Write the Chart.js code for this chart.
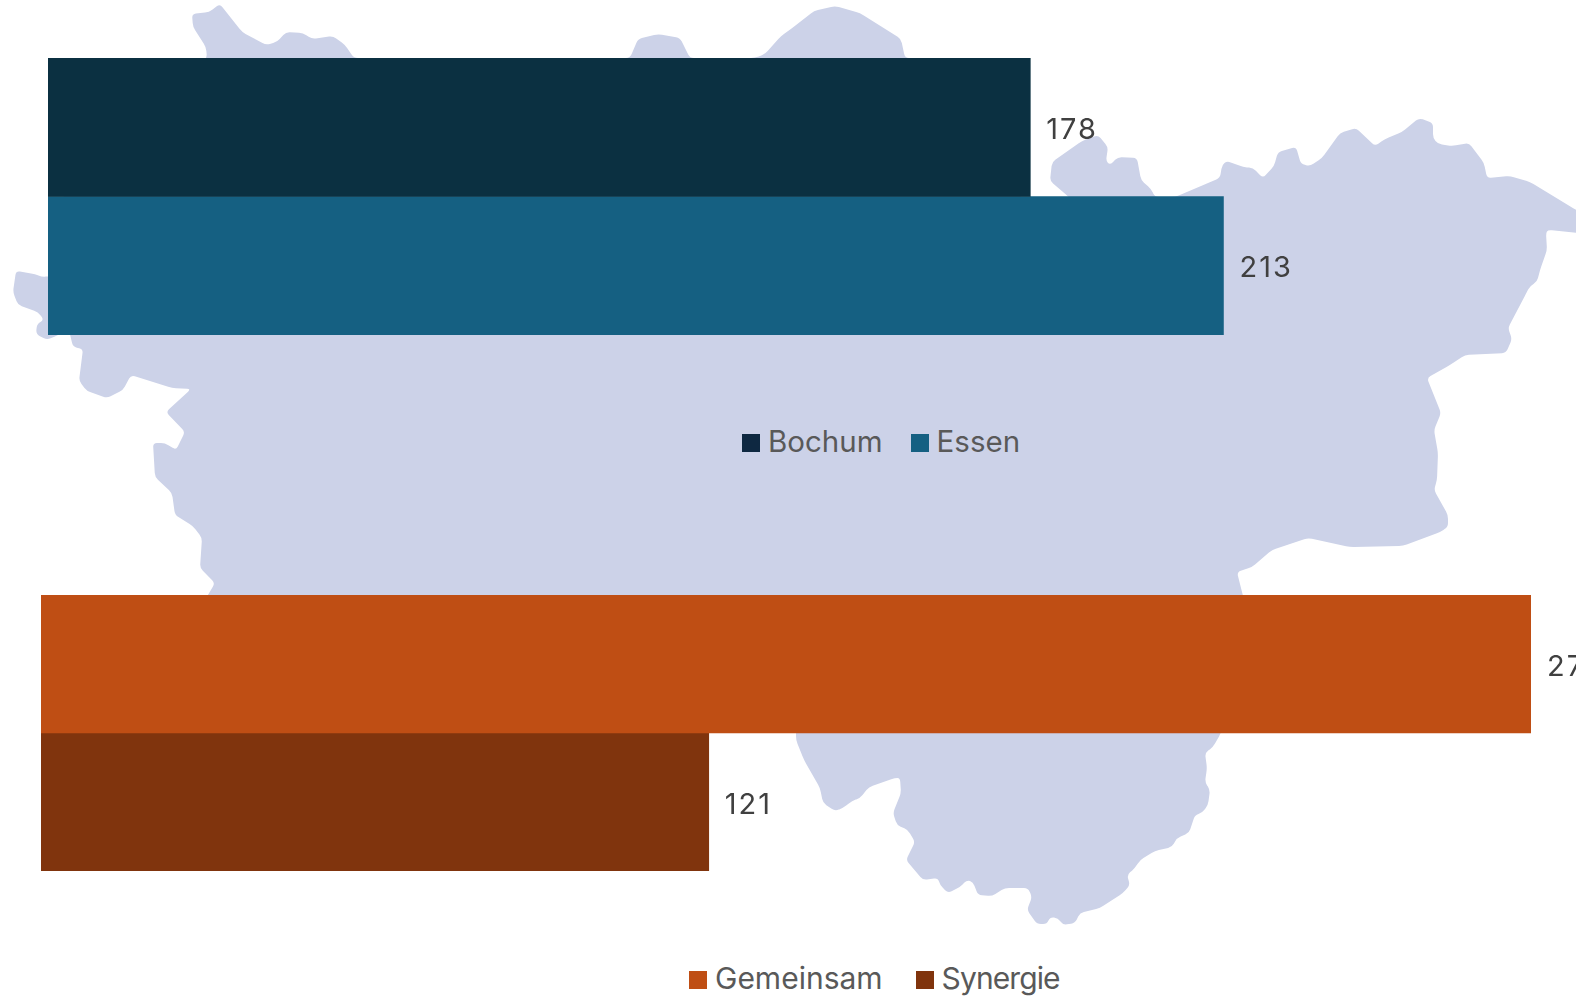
<!DOCTYPE html>
<html lang="de">
<head>
    <meta charset="UTF-8">
    <title>Bochum Essen</title>
    <script src="https://cdn.jsdelivr.net/npm/chart.js@4"></script>
    <style>
        html,body{margin:0; padding:0; background:#fff; overflow:hidden; width:1576px; height:998px;}
        #wrap{position:relative; width:1576px; height:998px; overflow:hidden; font-family:Inter,sans-serif;}
        #wrap svg, #wrap canvas{position:absolute; left:0;}
        #map{top:0;}
        #chartTop{top:0;}
        #chartBottom{top:560px;}
        .custom_legend{position:absolute; display:flex; align-items:center; color:#595959; font-size:29.5px; line-height:36px; white-space:nowrap;}
        .custom_legend i{display:block; width:18px; height:18px; margin-right:8px;}
        .custom_legend span{position:relative; top:-2px; margin-right:28px;}
        #legendTop{left:742px; top:425px;}
        #legendBottom{left:689px; top:962px; font-size:30px;}
        #legendBottom span{margin-right:33px;}
        #legendBottom span:last-child{letter-spacing:-.9px;}
    </style>
</head>
<body>
    <div id="wrap">
        <svg id="map" width="1576" height="998" viewBox="0 0 1576 998">
            <path id="mapShape" fill="#CCD2E8"></path>
        </svg>
        <canvas id="chartTop" width="1576" height="340"></canvas>
        <canvas id="chartBottom" width="1576" height="320"></canvas>
        <div class="custom_legend" id="legendTop"></div>
        <div class="custom_legend" id="legendBottom"></div>
    </div>

    <script>
        const seriesTop = ['Bochum', 'Essen']
        const valuesTop = [178, 213]
        const barColorsTop = ['#0B3041', '#156082']
        const swatchColorsTop = ['#0E2841', '#156082']

        const seriesBottom = ['Gemeinsam', 'Synergie']
        const valuesBottom = [270, 121]
        const barColorsBottom = ['#BF4E14', '#80340D']

        const axisMax = 270

        // Umriss der Karte im Hintergrund
        const mapOutline = `
            207,58 206,47 193,27 192,14 209,12 220,4 242,32 266,45 277,42 286,32 303,33 312,39 333,36 345,45 354,58
            630,58 638,39 658,34 680,38 690,58 755,58 765,54 781,36 791,29 814,11 835,6 860,13 901,39 905,58
            1020,60 1020,198 1069,198 1069,197 1050,181 1052,162 1082,141 1098,135 1108,147 1106,161 1110,165 1118,157 1137,158 1141,180 1151,189 1155,197
            1175,197 1220,178 1222,165 1227,161 1243,167 1253,168 1263,178 1274,166 1278,152 1296,147 1301,164 1310,166 1322,158 1340,133 1356,128
            1375,146 1385,139 1402,132 1419,118 1433,123 1433,138 1438,144 1452,146 1469,143 1484,163 1487,178 1510,176 1530,182 1573,208 1580,212
            1580,233 1548,230 1546,233 1547,250 1540,270 1537,282 1530,286 1508,328 1512,339 1506,353 1465,355 1450,365 1427,378
            1441,413 1434,430 1438,453 1437,480 1434,490 1448,515 1448,527 1440,532 1403,546 1350,547 1308,538 1272,550 1252,567 1237,572 1244,600
            1221,733 1213,747 1205,753 1207,768 1205,782 1210,790 1208,805 1202,813 1195,815 1189,833 1177,838 1172,847 1155,851 1140,860 1135,868 1127,875
            1130,885 1123,893 1100,908 1080,913 1075,923 1063,925 1058,918 1050,917 1047,924 1037,924 1027,910 1032,897 1028,888 1005,888 992,896 978,895
            973,882 967,880 960,887 948,893 940,885 938,878 923,880 906,860 915,842 908,830 897,825 893,813 901,793 900,778 895,778 869,787 860,798 852,801
            843,808 835,811 823,803 820,788 804,760 796,740 796,725
            205,600 215,583 200,568 202,538 193,526 175,515 172,493 155,477 153,443 165,443 176,450 185,432 166,412 191,389 172,388 131,375 123,390 107,398
            87,391 79,381 83,349 73,347 69,330 58,335 47,340 36,334 37,324 44,320 38,312 18,305 13,292 16,271 35,274 42,277 52,276 60,200`

        // Ecken leicht abrunden
        function roundedPath(outline, radius){
            const pts = outline.trim().split(/\s+/).map(function(p){ return p.split(',').map(Number) })
            let d = ''
            pts.forEach(function(p, i){
                const prev = pts[(i - 1 + pts.length) % pts.length]
                const next = pts[(i + 1) % pts.length]
                const toward = function(q){
                    const len = Math.hypot(q[0] - p[0], q[1] - p[1]) || 1
                    const r = Math.min(radius, len / 2)
                    return [p[0] + (q[0] - p[0]) * r / len, p[1] + (q[1] - p[1]) * r / len]
                }
                const a = toward(prev), b = toward(next)
                d += (i ? 'L' : 'M') + a[0] + ' ' + a[1] + 'Q' + p[0] + ' ' + p[1] + ' ' + b[0] + ' ' + b[1]
            })
            return d + 'Z'
        }
        document.getElementById('mapShape').setAttribute('d', roundedPath(mapOutline, 4))

        // Wert rechts neben dem Balken
        const valueLabels = {
            id:'valueLabels',
            afterDatasetsDraw:function(chart){
                const ctx = chart.ctx
                chart.data.datasets.forEach(function(dataset, i){
                    chart.getDatasetMeta(i).data.forEach(function(element, index){
                        ctx.save()
                        ctx.font = '400 29px Inter'
                        ctx.letterSpacing = '2px'
                        ctx.fillStyle = '#404040'
                        ctx.textAlign = 'left'
                        ctx.textBaseline = 'middle'
                        ctx.fillText(dataset.data[index], element.x + 16, element.y + 3)
                        ctx.restore()
                    })
                })
            }
        }

        function makeChart(id, names, values, colors, padding){
            return new Chart(document.getElementById(id), {
                type:'bar',
                data:{
                    labels:[''],
                    datasets:names.map(function(name, i){
                        return {label:name, data:[values[i]], backgroundColor:colors[i]}
                    })
                },
                options:{
                    indexAxis:'y',
                    responsive:false,
                    animation:false,
                    layout:{padding:padding},
                    datasets:{bar:{categoryPercentage:1, barPercentage:1}},
                    plugins:{legend:{display:false}, tooltip:{enabled:false}},
                    scales:{
                        x:{display:false, min:0, max:axisMax},
                        y:{display:false}
                    }
                },
                plugins:[valueLabels]
            })
        }

        function makeLegend(id, names, colors){
            const box = document.getElementById(id)
            names.forEach(function(name, i){
                const swatch = document.createElement('i')
                swatch.style.background = colors[i]
                const text = document.createElement('span')
                text.textContent = name
                box.appendChild(swatch)
                box.appendChild(text)
            })
        }

        makeChart('chartTop', seriesTop, valuesTop, barColorsTop, {left:48, right:38, top:58, bottom:5})
        makeChart('chartBottom', seriesBottom, valuesBottom, barColorsBottom, {left:41, right:45, top:35, bottom:9})
        makeLegend('legendTop', seriesTop, swatchColorsTop)
        makeLegend('legendBottom', seriesBottom, barColorsBottom)
    </script>
</body>
</html>
